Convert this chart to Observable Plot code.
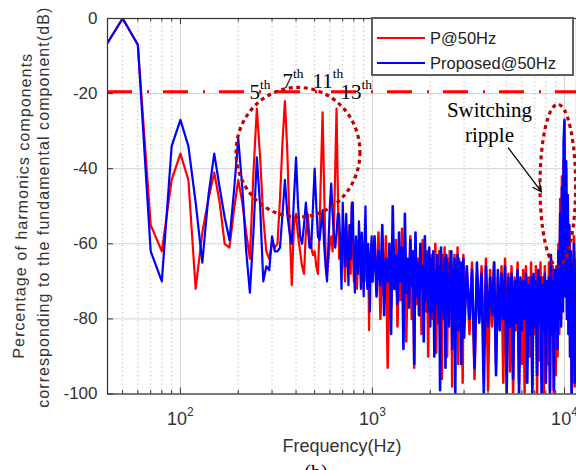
<!DOCTYPE html>
<html>
<head>
<meta charset="utf-8">
<script src="https://cdn.jsdelivr.net/npm/d3@7"></script>
<script src="https://cdn.jsdelivr.net/npm/@observablehq/plot@0.6"></script>
<style>
  html, body { margin: 0; padding: 0; background: #fff; }
  #chart { width: 576px; height: 470px; overflow: hidden; }
</style>
</head>
<body>
<div id="chart"></div>
<script>
// ---------- DATA ----------
const seriesNames = ["P@50Hz", "Proposed@50Hz"];
const seriesColors = ["#ff0000", "#0000ff"];

// FFT bins (Hz)
const freqLow = d3.range(40, 1001, 10);     // 40..1000
const freqMid = d3.range(1025, 3001, 25);   // 1025..3000
const freqHigh = d3.range(3100, 11601, 100); // 3100..11600

const redLow = [
  -8, 0, -7, -55, -62, -43, -36, -43, -72, -57,
  -48, -41, -49, -60, -61, -51, -43, -49, -57, -64,
  -41, -24, -37, -53, -62, -64, -60, -61, -60, -48,
  -33, -22, -35, -55, -71, -55, -52, -58, -62, -66,
  -68, -57, -52, -58, -61, -63, -62, -66, -68, -56,
  -40, -25, -45, -63, -68, -64, -60, -58, -62, -55,
  -40, -24, -45, -64,
  -57, -66, -60, -63, -70, -58, -66, -62, -55, -68,
  -49, -60, -70, -64, -61, -72, -66, -58, -63, -69,
  -62, -67, -72, -60, -65, -70, -66, -62, -83, -70,
  -64, -60, -68
];
const blueLow = [
  -8, 0, -7, -62, -70, -34, -27, -34, -49, -65,
  -47, -36, -45, -53, -59, -46, -32, -45, -62, -73,
  -57, -37, -50, -70, -66, -67, -58, -62, -62, -61,
  -52, -43, -52, -57, -60, -48, -37, -50, -58, -60,
  -55, -49, -55, -61, -61, -50, -40, -50, -58, -59,
  -55, -51, -60, -66, -70, -60, -50, -44, -52, -58,
  -61, -57, -52, -52,
  -60, -72, -49, -58, -66, -52, -62, -71, -55, -64,
  -50, -49, -66, -73, -58, -62, -68, -54, -60, -72,
  -57, -63, -74, -59, -50, -64, -72, -60, -66, -78,
  -63, -58, -70
];
const redMid = [
  -62, -70, -57, -80, -64, -74, -58, -93, -66, -77,
  -60, -72, -59, -82, -65, -75, -56, -78, -62, -86,
  -67, -73, -58, -80, -63, -93, -60, -76, -64, -79,
  -61, -84, -59, -74, -66, -78, -62, -90, -65, -77,
  -63, -80, -66, -77, -60, -89, -65, -79, -62, -84,
  -67, -96, -63, -80, -61, -78, -66, -90, -64, -81,
  -62, -77, -65, -98, -68, -80, -63, -85, -66, -79,
  -61, -92, -64, -80, -67, -83, -65, -97, -63, -81
];
const blueMid = [
  -58, -74, -62, -71, -55, -79, -64, -70, -60, -84,
  -50, -72, -63, -76, -57, -70, -61, -88, -52, -73,
  -64, -77, -59, -71, -62, -92, -57, -74, -65, -79,
  -60, -72, -66, -86, -58, -75, -63, -78, -61, -82,
  -64, -78, -62, -90, -67, -76, -63, -81, -66, -99,
  -61, -77, -68, -80, -64, -93, -63, -79, -69, -82,
  -65, -76, -62, -88, -67, -80, -64, -100, -66, -78,
  -63, -83, -68, -77, -65, -92, -67, -80, -64, -85
];
const redHigh = [
  -67, -84, -65, -96, -68, -80, -66, -90, -64, -99,
  -67, -82, -65, -92, -69, -81, -66, -97, -64, -85,
  -68, -94, -66, -100, -69, -83, -65, -97, -70, -92,
  -67, -100, -66, -85, -69, -90, -65, -98, -70, -84,
  -66, -100, -68, -91, -65, -96, -69, -100, -66, -94,
  -70, -92, -65, -99, -68, -67, -66, -100, -69, -95,
  -68, -90, -60, -84, -48, -80, -42, -76, -38, -37,
  -72, -40, -78, -48, -84, -56, -90, -63, -100, -65,
  -92, -58, -98, -66, -90, -62
];
const blueHigh = [
  -66, -80, -67, -93, -65, -81, -68, -100, -66, -82,
  -69, -79, -65, -95, -67, -83, -68, -80, -66, -100,
  -69, -82, -68, -96, -70, -81, -67, -100, -69, -83,
  -70, -80, -68, -97, -71, -84, -69, -100, -68, -82,
  -70, -95, -67, -81, -69, -100, -71, -83, -68, -97,
  -70, -82, -69, -100, -63, -84, -70, -99, -67, -83,
  -66, -88, -62, -80, -52, -82, -45, -78, -33, -27,
  -74, -38, -80, -47, -84, -55, -90, -62, -100, -66,
  -85, -60, -97, -67, -83, -64
];

// axes
const xDomain = [41.7, 11550];
const yDomain = [-100, 0];
const majorTicksX = [100, 1000, 10000];
const minorTicksX = [50, 60, 70, 80, 90, 200, 300, 400, 500, 600, 700, 800, 900,
                     2000, 3000, 4000, 5000, 6000, 7000, 8000, 9000];
const yTicks = [0, -20, -40, -60, -80, -100];
const thresholdDb = -19.5;

// texts
const xLabel = "Frequency(Hz)";
const yLabel1 = "Percentage of harmonics components";
const yLabel2 = "corresponding to the fundamental component(dB)";
const caption = "(b)";

// annotations (data coordinates)
const harmonicLabels = [
  {f: 229, db: -21.4, n: "5"},
  {f: 340, db: -18.5, n: "7"},
  {f: 487, db: -18.5, n: "11"},
  {f: 681, db: -21.4, n: "13"}
];
const rippleLabel = [{f: 4069, db: -21.4, text: "Switching\nripple"}];
const rippleArrow = [{f1: 5108, db1: -34.5, f2: 7590, db2: -46.2}];
const ellipseBoxes = [
  {f1: 196, f2: 866, db1: -18.5, db2: -53},
  {f1: 7500, f2: 11500, db1: -23, db2: -66.2}
];

// ---------- BUILD ----------
const freqs = [...freqLow, ...freqMid, ...freqHigh];
const redDb = [...redLow, ...redMid, ...redHigh];
const blueDb = [...blueLow, ...blueMid, ...blueHigh];
const rows = freqs.map((f, i) => ({f, red: redDb[i], blue: blueDb[i]}));
const rowsLow = rows.filter(d => d.f <= 1000);
const rowsHigh = rows.filter(d => d.f >= 1000);

const W = 576, H = 470, mT = 18, mL = 107, mR = 0, mB = 76.5;
const innerW = W - mL - mR, innerH = H - mT - mB;
const serif = "'Liberation Serif', 'Times New Roman', serif";

function ellipseMark(index, scales) {
  const g = d3.create("svg:g").attr("aria-label", "ellipses");
  for (const e of ellipseBoxes) {
    const x1 = scales.x(e.f1), x2 = scales.x(e.f2);
    const y1 = scales.y(e.db1), y2 = scales.y(e.db2);
    g.append("ellipse")
      .attr("cx", (x1 + x2) / 2).attr("cy", (y1 + y2) / 2)
      .attr("rx", Math.abs(x2 - x1) / 2).attr("ry", Math.abs(y2 - y1) / 2)
      .attr("fill", "none").attr("stroke", "#bf0000")
      .attr("stroke-width", 3.2).attr("stroke-dasharray", "4,3.6");
  }
  return g.node();
}

function legendMark(index, scales, values, dim) {
  const g = d3.create("svg:g").attr("aria-label", "legend");
  const bw = 201, bh = 57;
  const bx = dim.width - dim.marginRight - bw - 3, by = dim.marginTop;
  g.append("rect").attr("x", bx).attr("y", by).attr("width", bw).attr("height", bh)
    .attr("fill", "#fff").attr("stroke", "#5e5e5e").attr("stroke-width", 2);
  seriesNames.forEach((name, i) => {
    const yy = by + 20 + i * 25;
    g.append("line").attr("x1", bx + 5).attr("x2", bx + 53).attr("y1", yy).attr("y2", yy)
      .attr("stroke", seriesColors[i]).attr("stroke-width", 1.8);
    g.append("text").attr("x", bx + 58).attr("y", yy).attr("dy", "0.36em")
      .attr("text-anchor", "start")
      .attr("font-size", 16.5).attr("fill", "#222").text(name);
  });
  return g.node();
}

const plot = Plot.plot({
  width: W, height: H,
  marginTop: mT, marginLeft: mL, marginRight: mR, marginBottom: mB,
  x: {type: "log", domain: xDomain},
  y: {domain: yDomain},
  style: {fontFamily: "'Liberation Sans', Arial, sans-serif", background: "#fff", color: "#333"},
  marks: [
    Plot.ruleX(minorTicksX, {stroke: "#b5b5b5", strokeDasharray: "1.2,3", strokeWidth: 1}),
    Plot.ruleX(majorTicksX, {stroke: "#d2d2d2", strokeWidth: 1}),
    Plot.ruleY(yTicks, {stroke: "#d2d2d2", strokeWidth: 1}),
    Plot.line(rowsLow, {x: "f", y: "red", stroke: seriesColors[0], strokeWidth: 2.2, clip: true}),
    Plot.line(rowsHigh, {x: "f", y: "red", stroke: seriesColors[0], strokeWidth: 2.5, clip: true}),
    Plot.line(rowsLow, {x: "f", y: "blue", stroke: seriesColors[1], strokeWidth: 2.2, clip: true}),
    Plot.line(rowsHigh, {x: "f", y: "blue", stroke: seriesColors[1], strokeWidth: 2.6, clip: true}),
    Plot.ruleY([thresholdDb], {stroke: "#ff0000", strokeWidth: 3, strokeDasharray: "25,15,2,14"}),
    ellipseMark,
    Plot.text(harmonicLabels, {x: "f", y: "db", text: d => d.n + "|th", textAnchor: "start",
      lineAnchor: "bottom", fontFamily: serif, fontSize: 21, fill: "#000"}),
    Plot.text(rippleLabel, {x: "f", y: "db", text: "text", textAnchor: "middle", lineAnchor: "top",
      lineHeight: 1.2, fontFamily: serif, fontSize: 21, fill: "#000"}),
    Plot.arrow(rippleArrow, {x1: "f1", y1: "db1", x2: "f2", y2: "db2", stroke: "#000",
      strokeWidth: 1.3, headLength: 11, headAngle: 50}),
    Plot.frame({stroke: "#333", strokeWidth: 1.2}),
    // inward ticks (Matlab style)
    Plot.ruleX(majorTicksX, {stroke: "#333", insetTop: innerH - 6}),
    Plot.ruleX(minorTicksX, {stroke: "#333", insetTop: innerH - 3.5}),
    Plot.ruleX(majorTicksX, {stroke: "#333", insetBottom: innerH - 6}),
    Plot.ruleX(minorTicksX, {stroke: "#333", insetBottom: innerH - 3.5}),
    Plot.ruleY(yTicks, {stroke: "#333", insetRight: innerW - 6}),
    Plot.axisX({ticks: majorTicksX, tickSize: 0, tickPadding: 18.5, fontSize: 18,
      tickFormat: d => "10|" + Math.round(Math.log10(d)), label: null}),
    Plot.axisY({ticks: yTicks, tickSize: 0, tickPadding: 10, fontSize: 17,
      tickFormat: d => String(d), label: null}),
    Plot.text([xLabel], {frameAnchor: "bottom", dy: 57.5, lineAnchor: "bottom", fontSize: 18, fill: "#333"}),
    Plot.text([yLabel1], {frameAnchor: "left", textAnchor: "middle", rotate: -88.5, dx: -85, fontSize: 16, fill: "#333"}),
    Plot.text([yLabel2], {frameAnchor: "left", textAnchor: "middle", rotate: -90, dx: -63.5, dy: 1.5, fontSize: 16, fill: "#333"}),
    Plot.text([caption], {frameAnchor: "bottom", dx: -26, dy: 85, lineAnchor: "bottom", fontFamily: serif, fontSize: 20, fill: "#000"}),
    legendMark
  ]
});

// superscripts and label fitting
d3.select(plot).selectAll("text").each(function () {
  const t = d3.select(this);
  const s = t.text();
  if (s.includes("|")) {
    const isAxis = s.startsWith("10|");
    const [b, e] = s.split("|");
    t.text(null);
    t.append("tspan").text(b);
    t.append("tspan").attr("dy", isAxis ? -9 : -10).attr("font-size", isAxis ? 12 : 13.5).text(e);
  } else if (s === yLabel1) {
    t.attr("textLength", 305).attr("lengthAdjust", "spacing");
  } else if (s === yLabel2) {
    t.attr("textLength", 400).attr("lengthAdjust", "spacing");
  }
});

document.getElementById("chart").appendChild(plot);
</script>
</body>
</html>
